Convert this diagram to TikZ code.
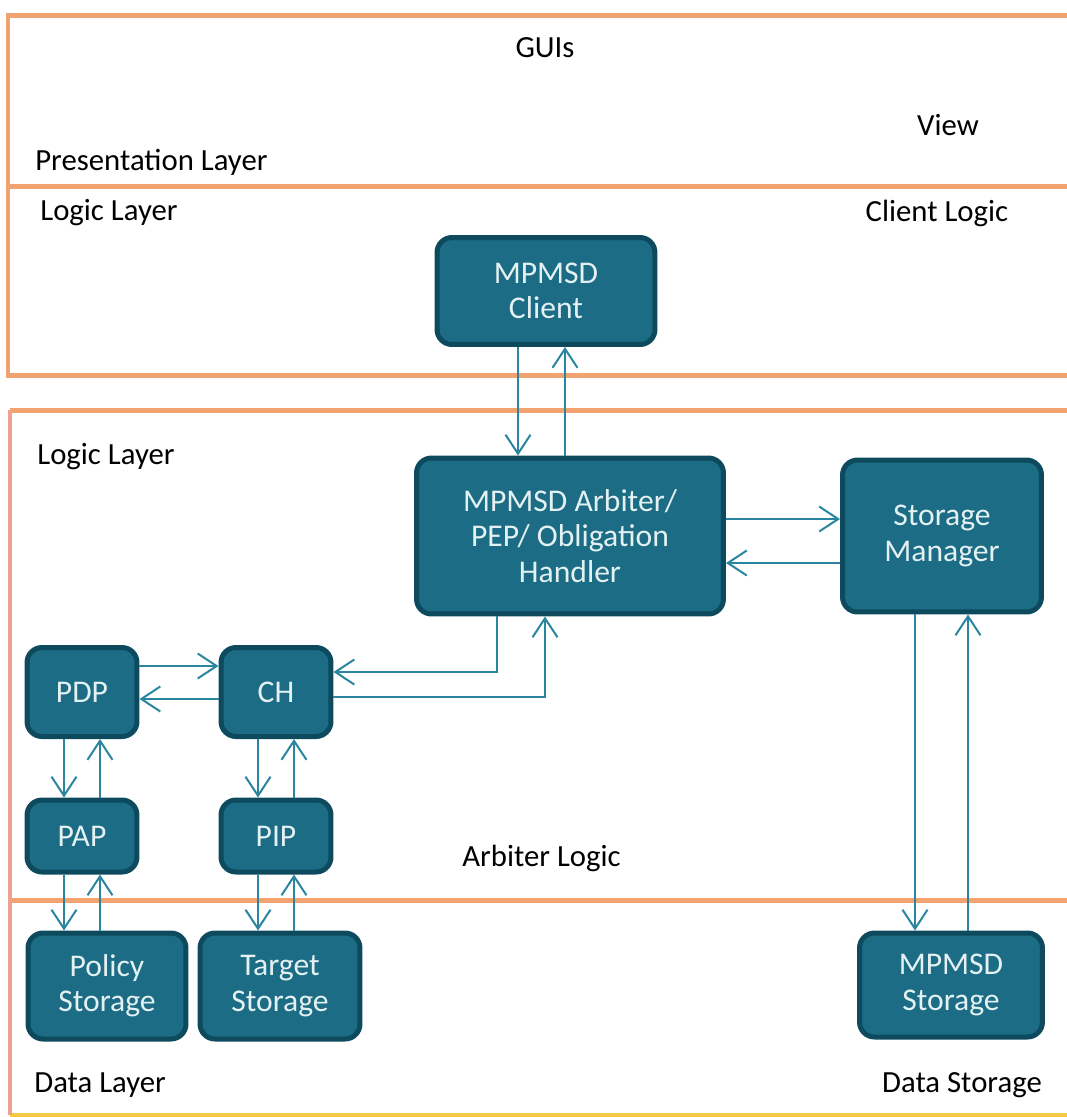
\documentclass[tikz,border=0pt]{standalone}
\usepackage{fontspec}
\setmainfont{Carlito}
\usetikzlibrary{arrows.meta}

\definecolor{boxfill}{HTML}{1B6C84}
\definecolor{boxline}{HTML}{0E4A5E}
\definecolor{boxtext}{HTML}{E4F1F3}
\definecolor{flowcol}{HTML}{2A86A0}
\definecolor{layercol}{HTML}{F2A372}
\definecolor{edgecol}{HTML}{F0A090}

\tikzset{
  comp/.style={draw=boxline, fill=boxfill, line width=0.1cm, rounded corners=0.3cm,
    text=boxtext, align=center, font=\fontsize{18}{20}\selectfont, inner sep=0pt},
  flow/.style={draw=flowcol, line width=0.04cm, -{Straight Barb[length=0.38cm,width=0.5cm]}},
  layer/.style={draw=layercol, line width=0.1cm},
  lbl/.style={font=\fontsize{17.5}{20}\selectfont, inner sep=0pt}
}

\begin{document}
\begin{tikzpicture}[x=0.02cm, y=-0.02cm]
  \useasboundingbox (0,0) rectangle (1067,1117);

  % layers
  \draw[layer] (1067,15) -- (8,15) -- (8,375) -- (1067,375);
  \draw[layer] (8,186) -- (1067,186);
  \draw[layer] (1067,410) -- (10,410);
  \draw[layer] (10,900) -- (1067,900);
  \draw[layer, draw=layercol!60!yellow] (10,1115) -- (1067,1115);
  \draw[layer, draw=edgecol] (10,410) -- (10,1115);

  \node [lbl] (GUIs) at (545,48) {GUIs};
  \node [lbl] (View) at (948,125) {View};
  \node [lbl, anchor=west] (PresLayer) at (35,162) {Presentation Layer};
  \node [lbl, anchor=west] (LogicLayer1) at (40,213) {Logic Layer};
  \node [lbl] (ClientLogic) at (937,213) {Client Logic};
  \node [lbl, anchor=west] (LogicLayer2) at (37,457) {Logic Layer};
  \node [lbl, anchor=west] (ArbLogic) at (462,858) {Arbiter Logic};
  \node [lbl, anchor=west] (DataLayer) at (34,1085) {Data Layer};
  \node [lbl] (DataStorage) at (962,1085) {Data Storage};

  % components
  \node [comp, minimum width=4.36cm, minimum height=2.14cm] (Client) at (546,291) {MPMSD\\Client};
  \node [comp, minimum width=6.14cm, minimum height=3.12cm] (Arbiter) at (570,536) {MPMSD Arbiter/\\PEP/ Obligation\\Handler};
  \node [comp, minimum width=3.98cm, minimum height=3.04cm] (SM) at (942,536) {Storage\\Manager};
  \node [comp, minimum width=2.2cm, minimum height=1.78cm] (PDP) at (82,692) {PDP};
  \node [comp, minimum width=2.2cm, minimum height=1.78cm] (CH) at (276,692) {CH};
  \node [comp, minimum width=2.2cm, minimum height=1.44cm] (PAP) at (82,836) {PAP};
  \node [comp, minimum width=2.2cm, minimum height=1.44cm] (PIP) at (276,836) {PIP};
  \node [comp, minimum width=3.16cm, minimum height=2.12cm] (PolicySt) at (107,986) {Policy\\Storage};
  \node [comp, minimum width=3.2cm, minimum height=2.12cm] (TargetSt) at (280,986) {Target\\Storage};
  \node [comp, minimum width=3.66cm, minimum height=2.08cm] (MStore) at (951,985) {MPMSD\\Storage};

  % connectors
  \draw[flow] ([xshift=-0.56cm]Client.south) -- ([xshift=-0.56cm]Client.south |- Arbiter.north);
  \draw[flow] ([xshift=0.38cm]Client.south |- Arbiter.north) -- ([xshift=0.38cm]Client.south);
  \draw[flow] ([yshift=0.34cm]Arbiter.east) -- ([yshift=0.34cm]Arbiter.east -| SM.west);
  \draw[flow] ([yshift=-0.54cm]Arbiter.east -| SM.west) -- ([yshift=-0.54cm]Arbiter.east);
  \draw[flow] ([xshift=-1.46cm]Arbiter.south) |- ([yshift=0.4cm]CH.east);
  \draw[flow] ([yshift=-0.1cm]CH.east) -| ([xshift=-0.5cm]Arbiter.south);
  \draw[flow] ([yshift=0.52cm]PDP.east) -- ([yshift=0.52cm]PDP.east -| CH.west);
  \draw[flow] ([yshift=-0.14cm]PDP.east -| CH.west) -- ([yshift=-0.14cm]PDP.east);
  \draw[flow] ([xshift=-0.36cm]PDP.south) -- ([xshift=-0.36cm]PDP.south |- PAP.north);
  \draw[flow] ([xshift=0.36cm]PDP.south |- PAP.north) -- ([xshift=0.36cm]PDP.south);
  \draw[flow] ([xshift=-0.36cm]CH.south) -- ([xshift=-0.36cm]CH.south |- PIP.north);
  \draw[flow] ([xshift=0.36cm]CH.south |- PIP.north) -- ([xshift=0.36cm]CH.south);
  \draw[flow] ([xshift=-0.36cm]PAP.south) -- ([xshift=-0.36cm]PAP.south |- PolicySt.north);
  \draw[flow] ([xshift=0.36cm]PAP.south |- PolicySt.north) -- ([xshift=0.36cm]PAP.south);
  \draw[flow] ([xshift=-0.36cm]PIP.south) -- ([xshift=-0.36cm]PIP.south |- TargetSt.north);
  \draw[flow] ([xshift=0.36cm]PIP.south |- TargetSt.north) -- ([xshift=0.36cm]PIP.south);
  \draw[flow] ([xshift=-0.54cm]SM.south) -- ([xshift=-0.54cm]SM.south |- MStore.north);
  \draw[flow] ([xshift=0.52cm]SM.south |- MStore.north) -- ([xshift=0.52cm]SM.south);
\end{tikzpicture}
\end{document}
